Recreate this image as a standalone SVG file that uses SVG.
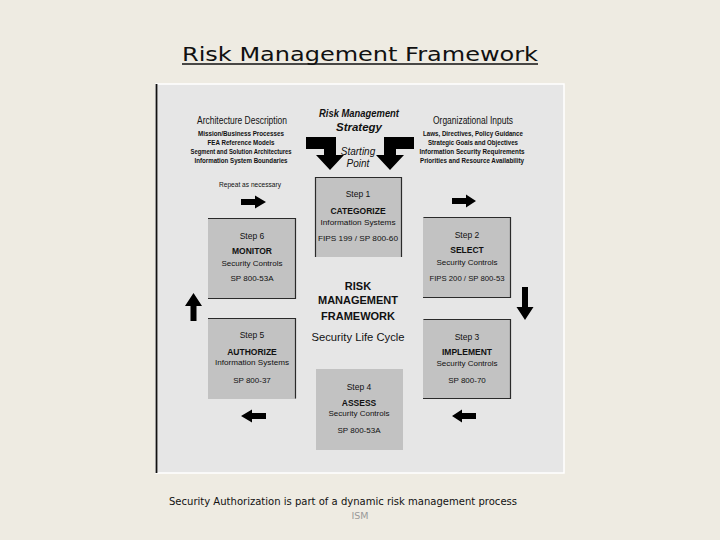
<svg xmlns="http://www.w3.org/2000/svg" width="720" height="540" viewBox="0 0 720 540">
<style>
text{font-family:"Liberation Sans",Arial,sans-serif;fill:#111;text-anchor:middle}
.h{font-size:10px}
.s{font-size:7px;font-weight:bold}
.st{font-size:8.5px}
.nm{font-size:8.5px;font-weight:bold}
.sub{font-size:8px}
.ref{font-size:8px}
.box{fill:#c2c2c2}
.edge{fill:none;stroke:#2a2a2a;stroke-width:1.2}
.arr{fill:#000}
.center{font-size:11px;font-weight:bold}
.cap{font-family:"DejaVu Sans",Verdana,sans-serif;font-size:10px;text-anchor:start}
</style>
<rect width="720" height="540" fill="#eeebe2"/>
<text x="360" y="61" style="font-family:'DejaVu Sans',Verdana,sans-serif;font-size:20px" textLength="356" lengthAdjust="spacingAndGlyphs">Risk Management Framework</text>
<line x1="182" y1="64" x2="538" y2="64" stroke="#111" stroke-width="1.3"/>

<rect x="156" y="84" width="408" height="389" fill="#e6e6e6" stroke="#fff" stroke-width="1.5"/>
<line x1="156.5" y1="84" x2="156.5" y2="473" stroke="#111" stroke-width="1.8"/>

<g id="arch">
<text class="h" x="242" y="124" textLength="90" lengthAdjust="spacingAndGlyphs">Architecture Description</text>
<text class="s" x="241" y="136" textLength="86" lengthAdjust="spacingAndGlyphs">Mission/Business Processes</text>
<text class="s" x="241" y="145" textLength="67" lengthAdjust="spacingAndGlyphs">FEA Reference Models</text>
<text class="s" x="241" y="154" textLength="101" lengthAdjust="spacingAndGlyphs">Segment and Solution Architectures</text>
<text class="s" x="241" y="163" textLength="93" lengthAdjust="spacingAndGlyphs">Information System Boundaries</text>
</g>
<g id="strategy">
<text x="359" y="117" style="font-size:11.5px;font-weight:bold;font-style:italic" textLength="80" lengthAdjust="spacingAndGlyphs">Risk Management</text>
<text x="359" y="131" style="font-size:11.5px;font-weight:bold;font-style:italic">Strategy</text>
<text x="358" y="155" style="font-size:10px;font-style:italic">Starting</text>
<text x="358" y="167" style="font-size:10px;font-style:italic">Point</text>
</g>
<g id="org">
<text class="h" x="473" y="124" textLength="80" lengthAdjust="spacingAndGlyphs">Organizational Inputs</text>
<text class="s" x="473" y="136" textLength="100" lengthAdjust="spacingAndGlyphs">Laws, Directives, Policy Guidance</text>
<text class="s" x="473" y="145" textLength="90" lengthAdjust="spacingAndGlyphs">Strategic Goals and Objectives</text>
<text class="s" x="472" y="154" textLength="105" lengthAdjust="spacingAndGlyphs">Information Security Requirements</text>
<text class="s" x="472" y="163" textLength="104" lengthAdjust="spacingAndGlyphs">Priorities and Resource Availability</text>
</g>
<text x="250" y="187" style="font-size:7px" textLength="62" lengthAdjust="spacingAndGlyphs">Repeat as necessary</text>

<g id="step1">
<rect class="box" x="315" y="177" width="87" height="80"/>
<polyline class="edge" points="315.5,257 315.5,177.5 401.5,177.5 401.5,257"/>
<text class="st" x="358" y="197">Step 1</text>
<text class="nm" x="358" y="214">CATEGORIZE</text>
<text class="sub" x="358" y="225" textLength="75" lengthAdjust="spacingAndGlyphs">Information Systems</text>
<text class="ref" x="358" y="241" textLength="80" lengthAdjust="spacingAndGlyphs">FIPS 199 / SP 800-60</text>
</g>
<g id="step2">
<rect class="box" x="423" y="217" width="88" height="81"/>
<polyline class="edge" points="423.5,217.5 510.5,217.5 510.5,297.5 423,297.5"/>
<text class="st" x="467" y="238">Step 2</text>
<text class="nm" x="467" y="253">SELECT</text>
<text class="sub" x="467" y="265">Security Controls</text>
<text class="ref" x="467" y="281" textLength="75" lengthAdjust="spacingAndGlyphs">FIPS 200 / SP 800-53</text>
</g>
<g id="step3">
<rect class="box" x="423" y="319" width="88" height="80"/>
<polyline class="edge" points="423.5,319.5 510.5,319.5 510.5,398.5 423,398.5"/>
<text class="st" x="467" y="340">Step 3</text>
<text class="nm" x="467" y="355">IMPLEMENT</text>
<text class="sub" x="467" y="366">Security Controls</text>
<text class="ref" x="467" y="383">SP 800-70</text>
</g>
<g id="step4">
<rect class="box" x="316" y="369" width="87" height="81"/>
<text class="st" x="359" y="390">Step 4</text>
<text class="nm" x="359" y="406">ASSESS</text>
<text class="sub" x="359" y="416">Security Controls</text>
<text class="ref" x="359" y="433">SP 800-53A</text>
</g>
<g id="step5">
<rect class="box" x="208" y="318" width="88" height="81"/>
<polyline class="edge" points="208,318.5 295.5,318.5 295.5,398.5"/>
<text class="st" x="252" y="338">Step 5</text>
<text class="nm" x="252" y="355">AUTHORIZE</text>
<text class="sub" x="252" y="365" textLength="74" lengthAdjust="spacingAndGlyphs">Information Systems</text>
<text class="ref" x="252" y="383">SP 800-37</text>
</g>
<g id="step6">
<rect class="box" x="208" y="218" width="88" height="81"/>
<polyline class="edge" points="208,218.5 295.5,218.5 295.5,298.5 208,298.5"/>
<text class="st" x="252" y="239">Step 6</text>
<text class="nm" x="252" y="254">MONITOR</text>
<text class="sub" x="252" y="266">Security Controls</text>
<text class="ref" x="252" y="281">SP 800-53A</text>
</g>
<g id="center">
<text class="center" x="358" y="290">RISK</text>
<text class="center" x="358" y="304">MANAGEMENT</text>
<text class="center" x="358" y="320">FRAMEWORK</text>
<text x="358" y="341" style="font-size:10.5px" textLength="93" lengthAdjust="spacingAndGlyphs">Security Life Cycle</text>
</g>

<g id="connectors">
<polygon class="arr" points="306,137 336,137 336,155 344,155 330,170 316,155 324,155 324,149 306,149"/>
<polygon class="arr" points="414,137 384,137 384,155 376,155 390,170 404,155 396,155 396,149 414,149"/>
<polygon class="arr" points="241,199 255,199 255,195.5 266,202 255,208.5 255,205 241,205"/>
<polygon class="arr" points="452,198 466,198 466,194.5 476,201 466,207.5 466,204 452,204"/>
<polygon class="arr" points="522,287 528,287 528,307 533.5,307 525,320 516.5,307 522,307"/>
<polygon class="arr" points="266,413 252,413 252,409.5 241,416 252,422.5 252,419 266,419"/>
<polygon class="arr" points="476,413 462,413 462,409.5 452,416 462,422.5 462,419 476,419"/>
<polygon class="arr" points="190.5,321 196.5,321 196.5,306 202,306 193.5,293 185,306 190.5,306"/>
</g>

<text class="cap" x="169" y="505" textLength="348" lengthAdjust="spacingAndGlyphs">Security Authorization is part of a dynamic risk management process</text>
<text x="360" y="519" style="font-family:'DejaVu Sans',Verdana,sans-serif;font-size:9.5px;fill:#999">ISM</text>
</svg>
